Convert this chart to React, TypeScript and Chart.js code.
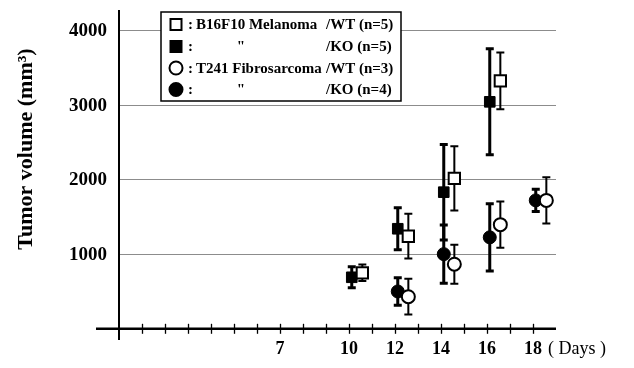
import React, { useEffect, useRef } from "react";
import { Chart, registerables } from "chart.js";

Chart.register(...registerables);

// ---- data ----
const melanomaDays = [10, 12, 14, 16];
const fibroDays = [12, 14, 16, 18];

const melanomaWT = [750, 1240, 2015, 3320];
const melanomaWTErr = [110, 300, 430, 380];
const melanomaKO = [690, 1340, 1830, 3040];
const melanomaKOErr = [140, 280, 640, 710];

const fibroWT = [430, 865, 1395, 1720];
const fibroWTErr = [240, 260, 310, 310];
const fibroKO = [500, 1000, 1225, 1720];
const fibroKOErr = [185, 390, 450, 150];

const yTickValues = [1000, 2000, 3000, 4000];
const xTickLabels = [7, 10, 12, 14, 16, 18];
const xMinorTicks = [1, 2, 3, 4, 5, 6, 7, 8, 9, 10, 11, 12, 13, 14, 15, 16, 17, 18];

const legendLeft = ["B16F10 Melanoma", '"', "T241 Fibrosarcoma", '"'];
const legendRight = ["/WT (n=5)", "/KO (n=5)", "/WT (n=3)", "/KO (n=4)"];

const yTitle = "Tumor volume (mm³)";
const xUnit = "( Days )";

// horizontal dodge so that KO / WT markers sit side by side
const KO_SHIFT = 0.12;
const WT_SHIFT = 0.58;

const SERIF = '"Liberation Serif", "Times New Roman", serif';

function points(days: number[], vals: number[], errs: number[], shift: number) {
  return days.map((d, i) => ({ x: d + shift, y: vals[i], err: errs[i] }));
}

const drawPlugin = {
  id: "paperAxes",
  beforeDatasetsDraw(chart: any) {
    const { ctx, chartArea, scales } = chart;
    const xs = scales.x;
    const ys = scales.y;
    const x0 = xs.getPixelForValue(0);
    const y0 = ys.getPixelForValue(0);
    ctx.save();

    // gridlines
    ctx.strokeStyle = "#8c8c8c";
    ctx.lineWidth = 1;
    yTickValues.forEach((v) => {
      const y = Math.round(ys.getPixelForValue(v)) + 0.5;
      ctx.beginPath();
      ctx.moveTo(x0, y);
      ctx.lineTo(chartArea.right, y);
      ctx.stroke();
    });

    // axes
    ctx.strokeStyle = "#000";
    ctx.lineWidth = 2.5;
    ctx.beginPath();
    ctx.moveTo(chartArea.left, y0);
    ctx.lineTo(chartArea.right, y0);
    ctx.stroke();
    ctx.lineWidth = 2;
    ctx.beginPath();
    ctx.moveTo(x0, chartArea.top);
    ctx.lineTo(x0, chartArea.bottom);
    ctx.stroke();

    // x minor ticks
    ctx.lineWidth = 1.3;
    xMinorTicks.forEach((d) => {
      const x = Math.round(xs.getPixelForValue(d)) + 0.5;
      ctx.beginPath();
      ctx.moveTo(x, y0 - 5);
      ctx.lineTo(x, y0 + 5);
      ctx.stroke();
    });

    // x tick labels
    ctx.fillStyle = "#000";
    ctx.font = `bold 18px ${SERIF}`;
    ctx.textAlign = "center";
    ctx.textBaseline = "middle";
    xTickLabels.forEach((d) => {
      ctx.fillText(String(d), xs.getPixelForValue(d), 349);
    });
    ctx.font = `18px ${SERIF}`;
    ctx.textAlign = "left";
    ctx.fillText(xUnit, 548, 349);

    // y tick labels
    ctx.font = `bold 19px ${SERIF}`;
    ctx.textAlign = "right";
    yTickValues.forEach((v) => {
      ctx.fillText(String(v), 107, ys.getPixelForValue(v) + 1);
    });

    // y title
    ctx.save();
    ctx.translate(26, 149);
    ctx.rotate(-Math.PI / 2);
    ctx.font = `bold 22px ${SERIF}`;
    ctx.textAlign = "center";
    ctx.textBaseline = "middle";
    ctx.fillText(yTitle, 0, 0);
    ctx.restore();

    // error bars
    chart.data.datasets.forEach((ds: any) => {
      ctx.strokeStyle = "#000";
      ctx.lineWidth = ds.errorBarWidth;
      ds.data.forEach((p: any) => {
        const x = xs.getPixelForValue(p.x);
        const yt = ys.getPixelForValue(p.y + p.err);
        const yb = ys.getPixelForValue(p.y - p.err);
        ctx.beginPath();
        ctx.moveTo(x, yt);
        ctx.lineTo(x, yb);
        ctx.moveTo(x - 4, yt);
        ctx.lineTo(x + 4, yt);
        ctx.moveTo(x - 4, yb);
        ctx.lineTo(x + 4, yb);
        ctx.stroke();
      });
    });
    ctx.restore();
  },
  afterDraw(chart: any) {
    const { ctx } = chart;
    ctx.save();
    // legend box
    const bx = 161, by = 12, bw = 240, bh = 89;
    ctx.fillStyle = "#fff";
    ctx.fillRect(bx, by, bw, bh);
    ctx.strokeStyle = "#000";
    ctx.lineWidth = 1.5;
    ctx.strokeRect(bx, by, bw, bh);

    const rows = [24.5, 46.5, 68, 89.5];
    chart.data.datasets.forEach((ds: any, i: number) => {
      const cy = rows[i];
      const cx = 176;
      ctx.lineWidth = 2;
      ctx.strokeStyle = "#000";
      ctx.fillStyle = ds.backgroundColor;
      ctx.beginPath();
      if (ds.pointStyle === "rect") {
        ctx.rect(cx - 5.5, cy - 5.5, 11, 11);
      } else {
        ctx.arc(cx, cy, 6.5, 0, Math.PI * 2);
      }
      ctx.fill();
      ctx.stroke();

      ctx.fillStyle = "#000";
      ctx.font = `bold 15px ${SERIF}`;
      ctx.textBaseline = "middle";
      ctx.textAlign = "left";
      ctx.fillText(":", 188, cy + 1);
      const left = legendLeft[i];
      if (left === '"') {
        ctx.textAlign = "center";
        ctx.fillText(left, 241, cy + 1);
      } else {
        ctx.textAlign = "left";
        ctx.fillText(left, 196, cy + 1);
      }
      ctx.textAlign = "left";
      ctx.fillText(legendRight[i], 326, cy + 1);
    });
    ctx.restore();
  },
};

export default function App() {
  const ref = useRef<HTMLCanvasElement | null>(null);

  useEffect(() => {
    if (!ref.current) return;
    const chart = new Chart(ref.current, {
      type: "scatter",
      data: {
        datasets: [
          {
            label: "B16F10 Melanoma /WT (n=5)",
            data: points(melanomaDays, melanomaWT, melanomaWTErr, WT_SHIFT),
            pointStyle: "rect",
            pointRadius: 8,
            backgroundColor: "#fff",
            borderColor: "#000",
            borderWidth: 2,
            errorBarWidth: 2,
          } as any,
          {
            label: "B16F10 Melanoma /KO (n=5)",
            data: points(melanomaDays, melanomaKO, melanomaKOErr, KO_SHIFT),
            pointStyle: "rect",
            pointRadius: 7.5,
            backgroundColor: "#000",
            borderColor: "#000",
            borderWidth: 1,
            errorBarWidth: 3,
          } as any,
          {
            label: "T241 Fibrosarcoma /WT (n=3)",
            data: points(fibroDays, fibroWT, fibroWTErr, WT_SHIFT),
            pointStyle: "circle",
            pointRadius: 6.5,
            backgroundColor: "#fff",
            borderColor: "#000",
            borderWidth: 2,
            errorBarWidth: 2,
          } as any,
          {
            label: "T241 Fibrosarcoma /KO (n=4)",
            data: points(fibroDays, fibroKO, fibroKOErr, KO_SHIFT),
            pointStyle: "circle",
            pointRadius: 6.5,
            backgroundColor: "#000",
            borderColor: "#000",
            borderWidth: 1,
            errorBarWidth: 3,
          } as any,
        ],
      },
      options: {
        responsive: false,
        animation: false,
        layout: { padding: { left: 96, right: 78, top: 9, bottom: 28 } },
        scales: {
          x: { type: "linear", min: -1, max: 19, display: false },
          y: { type: "linear", min: -150, max: 4270, display: false },
        },
        plugins: {
          legend: { display: false },
          tooltip: { enabled: false },
        },
      },
      plugins: [drawPlugin],
    });
    return () => chart.destroy();
  }, []);

  return (
    <div style={{ position: "absolute", left: 0, top: 0, width: 634, height: 368, background: "#fff" }}>
      <canvas ref={ref} width={634} height={368} style={{ display: "block" }} />
    </div>
  );
}
